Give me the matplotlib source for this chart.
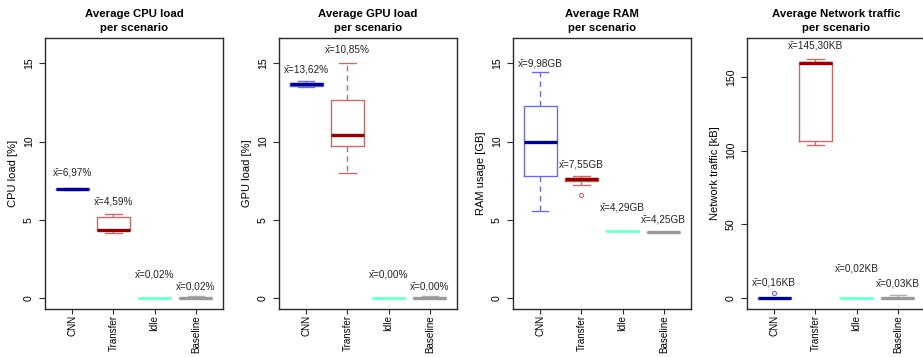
import matplotlib
matplotlib.use("Agg")
import matplotlib.pyplot as plt

plt.rcParams['font.family'] = ['Liberation Sans', 'DejaVu Sans']

scenarios = ["CNN", "Transfer", "Idle", "Baseline"]

# CPU load [%]
cpu_whislo = [6.92, 4.20, 0.00, 0.00]
cpu_q1 = [6.95, 4.35, 0.02, 0.02]
cpu_med = [6.98, 4.38, 0.02, 0.02]
cpu_q3 = [7.00, 5.22, 0.02, 0.02]
cpu_whishi = [7.05, 5.36, 0.02, 0.15]
cpu_mean = [6.97, 4.59, 0.02, 0.02]
cpu_fliers = [[], [], [], []]

# GPU load [%]
gpu_whislo = [13.50, 8.00, 0.00, 0.00]
gpu_q1 = [13.57, 9.70, 0.00, 0.00]
gpu_med = [13.65, 10.40, 0.00, 0.00]
gpu_q3 = [13.72, 12.65, 0.00, 0.00]
gpu_whishi = [13.88, 15.00, 0.00, 0.15]
gpu_mean = [13.62, 10.85, 0.00, 0.00]
gpu_fliers = [[], [], [], []]

# RAM usage [GB]
ram_whislo = [5.55, 7.22, 4.29, 4.25]
ram_q1 = [7.78, 7.52, 4.29, 4.25]
ram_med = [10.00, 7.62, 4.29, 4.25]
ram_q3 = [12.30, 7.70, 4.29, 4.25]
ram_whishi = [14.45, 7.80, 4.29, 4.25]
ram_mean = [9.98, 7.55, 4.29, 4.25]
ram_fliers = [[], [6.58], [], []]

# Network traffic [kB]
net_whislo = [0.00, 104.0, 0.00, 0.00]
net_q1 = [0.00, 106.5, 0.02, 0.03]
net_med = [0.00, 159.5, 0.02, 0.03]
net_q3 = [0.05, 160.0, 0.02, 0.03]
net_whishi = [0.30, 162.0, 0.02, 2.00]
net_mean = [0.16, 145.30, 0.02, 0.03]
net_fliers = [[3.6], [], [], []]

panels = [
    dict(title="Average CPU load\nper scenario", ylabel="CPU load [%]", unit="%",
         whislo=cpu_whislo, q1=cpu_q1, med=cpu_med, q3=cpu_q3, whishi=cpu_whishi,
         mean=cpu_mean, fliers=cpu_fliers, ylim=(-0.64, 16.64), yticks=[0, 5, 10, 15],
         left=45, lab_off=[15, 12.5, 24, 10]),
    dict(title="Average GPU load\nper scenario", ylabel="GPU load [%]", unit="%",
         whislo=gpu_whislo, q1=gpu_q1, med=gpu_med, q3=gpu_q3, whishi=gpu_whishi,
         mean=gpu_mean, fliers=gpu_fliers, ylim=(-0.64, 16.64), yticks=[0, 5, 10, 15],
         left=279, lab_off=[11.5, 14, 24, 10]),
    dict(title="Average RAM\nper scenario", ylabel="RAM usage [GB]", unit="GB",
         whislo=ram_whislo, q1=ram_q1, med=ram_med, q3=ram_q3, whishi=ram_whishi,
         mean=ram_mean, fliers=ram_fliers, ylim=(-0.64, 16.64), yticks=[0, 5, 10, 15],
         left=513, lab_off=[8.6, 11.5, 23.5, 12]),
    dict(title="Average Network traffic\nper scenario", ylabel="Network traffic [kB]", unit="KB",
         whislo=net_whislo, q1=net_q1, med=net_med, q3=net_q3, whishi=net_whishi,
         mean=net_mean, fliers=net_fliers, ylim=(-7.0, 176.6), yticks=[0, 50, 100, 150],
         left=747, lab_off=[15, 13.3, 30, 12]),
]

median_colors = ["#00008B", "#8B0000", "#7FFFD4", "#999999"]
border_colors = ["#6e6ed2", "#c46c6c", "#9ff5dd", "#b0b0b0"]

W, H = 923, 357
PX = 72 / 100  # points per pixel at 100 dpi
fig = plt.figure(figsize=(W / 100, H / 100), dpi=100)
frame_color = "#2a2a2a"

for p in panels:
    ax = fig.add_axes([p["left"] / W, (H - 308.5) / H, 178 / W, 271 / H])
    stats = []
    for i in range(len(scenarios)):
        stats.append(dict(med=p["med"][i], q1=p["q1"][i], q3=p["q3"][i],
                          whislo=p["whislo"][i], whishi=p["whishi"][i],
                          fliers=p["fliers"][i], mean=p["mean"][i], label=scenarios[i]))
    art = ax.bxp(stats, positions=[1, 2, 3, 4], widths=0.8, capwidths=0.4,
                 showmeans=False, showfliers=True,
                 boxprops=dict(linewidth=1.0),
                 whiskerprops=dict(linewidth=1.0, linestyle=(0, (4, 3))),
                 capprops=dict(linewidth=1.0),
                 medianprops=dict(linewidth=2.4, solid_capstyle="butt"),
                 flierprops=dict(marker="o", markersize=3, markerfacecolor="none",
                                 markeredgewidth=0.8))
    for i in range(len(scenarios)):
        bc, mc = border_colors[i], median_colors[i]
        art["boxes"][i].set_color(bc)
        art["medians"][i].set_color(mc)
        art["medians"][i].set_zorder(4)
        for k in (2 * i, 2 * i + 1):
            art["whiskers"][k].set_color(bc)
            art["caps"][k].set_color(bc)
        art["fliers"][i].set_markeredgecolor(bc)

        txt = f"x\u0304={p['mean'][i]:.2f}{p['unit']}".replace(".", ",")
        ax.annotate(txt, xy=(i + 1, p["whishi"][i]), xytext=(0, p["lab_off"][i] * PX),
                    textcoords="offset points", ha="center", va="center",
                    fontsize=7.2, color="#222222")

    ax.set_xlim(0.34, 4.66)
    ax.set_ylim(*p["ylim"])
    ax.set_yticks(p["yticks"])
    ax.set_xticks([1, 2, 3, 4])
    ax.set_xticklabels(scenarios, rotation=90, va="top", ha="center")
    ax.tick_params(axis="y", labelrotation=90, length=4, width=0.8, color=frame_color,
                   labelsize=7.6, pad=4)
    for lab in ax.get_yticklabels():
        lab.set_va("center")
    ax.tick_params(axis="x", length=3.6, width=0.8, color=frame_color, labelsize=7.1, pad=1.2)
    ax.set_ylabel(p["ylabel"], fontsize=8, labelpad=4.2)
    ax.set_title(p["title"], fontsize=8.2, fontweight="bold", pad=5, linespacing=1.45)
    for s in ax.spines.values():
        s.set_color(frame_color)
        s.set_linewidth(1.0)

fig.savefig("out.png", dpi=100)
